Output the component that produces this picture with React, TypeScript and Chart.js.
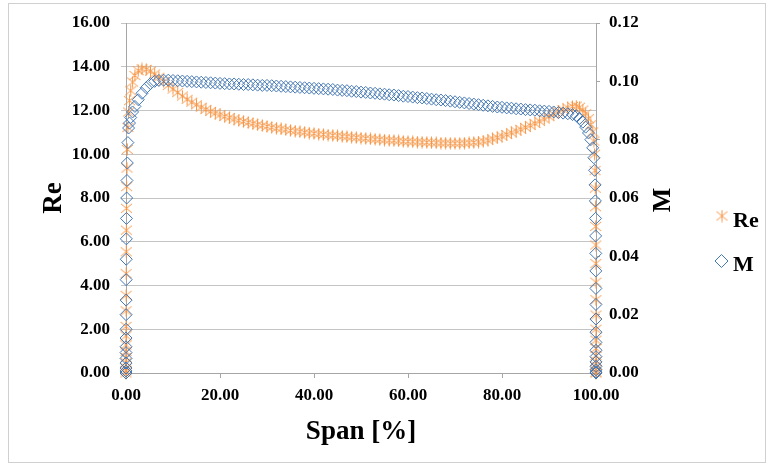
import React, { useEffect, useRef } from "react";
import { Chart, registerables } from "chart.js";

Chart.register(...registerables);

// Span positions [%]
const spanPct = [
  0, 0.0005, 0.001, 0.002, 0.003, 0.004, 0.006, 0.008, 0.012, 0.018,
  0.025, 0.035, 0.05, 0.07, 0.1, 0.14, 0.2, 0.28, 0.4, 0.55,
  0.75, 1.0, 1.4, 1.9, 2.6, 3.4, 4.3, 5.2, 6.1, 7.0, 8.0,
  9, 10, 11, 12, 13, 14, 15, 16, 17, 18,
  19, 20, 21, 22, 23, 24, 25, 26, 27, 28,
  29, 30, 31, 32, 33, 34, 35, 36, 37, 38,
  39, 40, 41, 42, 43, 44, 45, 46, 47, 48,
  49, 50, 51, 52, 53, 54, 55, 56, 57, 58,
  59, 60, 61, 62, 63, 64, 65, 66, 67, 68,
  69, 70, 71, 72, 73, 74, 75, 76, 77, 78,
  79, 80, 81, 82, 83, 84, 85, 86, 87, 88,
  89, 90, 91, 92, 93, 94,
  95, 95.8, 96.5, 97.2, 97.8, 98.4, 98.9, 99.3, 99.55, 99.7,
  99.8, 99.86, 99.9, 99.93, 99.95, 99.965, 99.975, 99.982, 99.988, 99.992,
  99.994, 99.996, 99.997, 99.998, 99.999, 99.9995, 100, 100,
];

// Reynolds number (left axis)
const reValues = [
  0, 0.10, 0.24, 0.48, 0.71, 0.99, 1.28, 1.70, 2.13, 2.84,
  3.55, 4.54, 5.54, 6.53, 7.53, 8.52, 9.37, 10.22, 11.22, 11.93,
  12.45, 12.9, 13.3, 13.6, 13.82, 13.9, 13.88, 13.8, 13.67, 13.52, 13.33,
  13.15, 12.98, 12.82, 12.66, 12.51, 12.38, 12.26, 12.15, 12.05, 11.96,
  11.88, 11.80, 11.73, 11.67, 11.61, 11.55, 11.50, 11.45, 11.40, 11.35,
  11.31, 11.27, 11.23, 11.19, 11.16, 11.12, 11.09, 11.06, 11.03, 11.00,
  10.97, 10.95, 10.92, 10.90, 10.88, 10.86, 10.84, 10.82, 10.80, 10.78,
  10.76, 10.74, 10.72, 10.70, 10.69, 10.67, 10.65, 10.64, 10.62, 10.61,
  10.59, 10.58, 10.57, 10.56, 10.55, 10.54, 10.53, 10.52, 10.51, 10.51,
  10.50, 10.50, 10.50, 10.51, 10.52, 10.54, 10.56, 10.60, 10.64, 10.70,
  10.76, 10.83, 10.90, 10.98, 11.06, 11.14, 11.23, 11.32, 11.41, 11.51,
  11.61, 11.72, 11.83, 11.94, 12.04, 12.12,
  12.18, 12.2, 12.15, 12.02, 11.85, 11.62, 11.35, 11.02, 10.6, 10.0,
  9.25, 8.45, 7.6, 6.7, 5.85, 5.0, 4.15, 3.35, 2.65, 2.0,
  1.5, 1.12, 0.8, 0.54, 0.33, 0.16, 0.04, 0,
];

// Mach number (right axis)
const mValues = [
  0, 0.0007, 0.0017, 0.0034, 0.005, 0.007, 0.009, 0.012, 0.015, 0.020,
  0.025, 0.032, 0.039, 0.046, 0.053, 0.060, 0.066, 0.072, 0.079, 0.084,
  0.0857, 0.0876, 0.0895, 0.0914, 0.0937, 0.0959, 0.0978, 0.0992, 0.1000, 0.1003, 0.1004,
  0.1004, 0.1003, 0.1002, 0.1001, 0.1000, 0.0999, 0.0998, 0.0997, 0.0996, 0.0995,
  0.0994, 0.0993, 0.0992, 0.0991, 0.0991, 0.0990, 0.0989, 0.0989, 0.0988, 0.0987,
  0.0986, 0.0986, 0.0985, 0.0984, 0.0983, 0.0982, 0.0981, 0.0980, 0.0979, 0.0978,
  0.0977, 0.0976, 0.0975, 0.0974, 0.0973, 0.0972, 0.0970, 0.0969, 0.0968, 0.0966,
  0.0965, 0.0963, 0.0962, 0.0960, 0.0959, 0.0957, 0.0956, 0.0954, 0.0953, 0.0951,
  0.0949, 0.0948, 0.0946, 0.0944, 0.0943, 0.0941, 0.0939, 0.0937, 0.0936, 0.0934,
  0.0932, 0.0930, 0.0928, 0.0926, 0.0924, 0.0922, 0.0920, 0.0918, 0.0916, 0.0914,
  0.0912, 0.0911, 0.0909, 0.0908, 0.0906, 0.0905, 0.0903, 0.0902, 0.0901, 0.0899,
  0.0898, 0.0897, 0.0895, 0.0893, 0.0891, 0.0889,
  0.0886, 0.0882, 0.0873, 0.0860, 0.0843, 0.0823, 0.0800, 0.0772, 0.0738, 0.0695,
  0.0645, 0.0590, 0.0530, 0.0470, 0.0410, 0.0350, 0.0290, 0.0235, 0.0185, 0.0140,
  0.0105, 0.0078, 0.0056, 0.0038, 0.0023, 0.0011, 0.0003, 0,
];

const xTicks = [0, 20, 40, 60, 80, 100];
const reTicks = [0, 2, 4, 6, 8, 10, 12, 14, 16];
const mTicks = [0, 0.02, 0.04, 0.06, 0.08, 0.1, 0.12];

const seriesNames = ["Re", "M"];
const xTitle = "Span [%]";
const reTitle = "Re";
const mTitle = "M";

const ORANGE = "#F79646";
const BLUE = "#4478B4";
const FONT = "'Liberation Serif', 'Times New Roman', serif";

function makeAsterisk(): HTMLCanvasElement {
  const c = document.createElement("canvas");
  c.width = 13;
  c.height = 13;
  const g = c.getContext("2d")!;
  g.strokeStyle = ORANGE;
  g.lineWidth = 1;
  g.beginPath();
  g.moveTo(6.5, 0.5);
  g.lineTo(6.5, 12.5);
  g.moveTo(1, 2);
  g.lineTo(12, 11);
  g.moveTo(1, 11);
  g.lineTo(12, 2);
  g.stroke();
  return c;
}

export default function App() {
  const ref = useRef<HTMLCanvasElement | null>(null);

  useEffect(() => {
    if (!ref.current) return;
    const star = makeAsterisk();

    const framePlugin = {
      id: "frame",
      beforeDraw(chart: any) {
        const ctx = chart.ctx;
        ctx.save();
        ctx.fillStyle = "#ffffff";
        ctx.fillRect(0, 0, chart.width, chart.height);
        ctx.strokeStyle = "#d0d0d0";
        ctx.lineWidth = 1;
        ctx.strokeRect(8.5, 3.5, 757, 459);
        ctx.restore();
      },
      afterDraw(chart: any) {
        const ctx = chart.ctx;
        const area = chart.chartArea;
        ctx.save();
        // secondary axis title, rotated like Excel
        ctx.fillStyle = "#000";
        ctx.font = `bold 26px ${FONT}`;
        ctx.textAlign = "center";
        ctx.textBaseline = "middle";
        ctx.translate(663, (area.top + area.bottom) / 2 + 2);
        ctx.rotate(-Math.PI / 2);
        ctx.fillText(mTitle, 0, 0);
        ctx.restore();

        // legend
        ctx.save();
        const ds = chart.data.datasets;
        ctx.font = `bold 22px ${FONT}`;
        ctx.fillStyle = "#000";
        ctx.textAlign = "left";
        ctx.textBaseline = "middle";
        ctx.drawImage(star, 722 - 6.5, 216 - 6.5);
        ctx.fillText(ds[0].label, 733, 221);
        ctx.strokeStyle = BLUE;
        ctx.lineWidth = 1;
        ctx.beginPath();
        const cx = 721.5, cy = 261, r = 6.5;
        ctx.moveTo(cx, cy - r);
        ctx.lineTo(cx + r, cy);
        ctx.lineTo(cx, cy + r);
        ctx.lineTo(cx - r, cy);
        ctx.closePath();
        ctx.stroke();
        ctx.fillText(ds[1].label, 733, 265);
        ctx.restore();
      },
    };

    const tickFont = { family: FONT, size: 17, weight: "bold" as const };
    const titleFont = { family: FONT, size: 27, weight: "bold" as const };

    const chart = new Chart(ref.current, {
      type: "scatter",
      data: {
        datasets: [
          {
            label: seriesNames[0],
            data: spanPct.map((x, i) => ({ x, y: reValues[i] })),
            yAxisID: "y",
            pointStyle: star as any,
            pointRadius: 6,
            borderColor: ORANGE,
            backgroundColor: ORANGE,
            showLine: false,
            clip: false as any,
            order: 1,
          },
          {
            label: seriesNames[1],
            data: spanPct.map((x, i) => ({ x, y: mValues[i] })),
            yAxisID: "y1",
            pointStyle: "rectRot",
            pointRadius: 6,
            pointBorderWidth: 1,
            borderColor: BLUE,
            backgroundColor: "rgba(0,0,0,0)",
            showLine: false,
            clip: false as any,
            order: 0,
          },
        ],
      },
      options: {
        responsive: false,
        animation: false,
        devicePixelRatio: 1,
        layout: { padding: { top: 23, left: 0, right: 0, bottom: 0 } },
        plugins: {
          legend: { display: false },
          tooltip: { enabled: false },
        },
        scales: {
          x: {
            type: "linear",
            min: 0,
            max: 100,
            afterBuildTicks: (s: any) => {
              s.ticks = xTicks.map((v) => ({ value: v }));
            },
            afterFit: (s: any) => {
              s.height = 95;
            },
            ticks: {
              color: "#000",
              font: tickFont,
              padding: 7,
              maxRotation: 0,
              callback: (v: any) => Number(v).toFixed(2),
            },
            grid: {
              drawOnChartArea: false,
              drawTicks: true,
              tickLength: 5,
              color: "#a6a6a6",
            },
            border: { color: "#a6a6a6" },
            title: {
              display: true,
              text: xTitle,
              color: "#000",
              font: titleFont,
              padding: { top: 0, bottom: 20 },
            },
          },
          y: {
            type: "linear",
            position: "left",
            min: 0,
            max: 16,
            afterBuildTicks: (s: any) => {
              s.ticks = reTicks.map((v) => ({ value: v }));
            },
            afterFit: (s: any) => {
              s.width = 126;
            },
            ticks: {
              color: "#000",
              font: tickFont,
              padding: 11,
              callback: (v: any) => Number(v).toFixed(2),
            },
            grid: {
              color: "#c4c4c4",
              tickLength: 5,
            },
            border: { color: "#a6a6a6" },
            title: {
              display: true,
              text: reTitle,
              color: "#000",
              font: titleFont,
              padding: { top: 38, bottom: 0 },
            },
          },
          y1: {
            type: "linear",
            position: "right",
            min: 0,
            max: 0.12,
            afterBuildTicks: (s: any) => {
              s.ticks = mTicks.map((v) => ({ value: v }));
            },
            afterFit: (s: any) => {
              s.width = 177;
            },
            ticks: {
              color: "#000",
              font: tickFont,
              padding: 9,
              callback: (v: any) => Number(v).toFixed(2),
            },
            grid: {
              drawOnChartArea: false,
              tickLength: 4,
              color: "#a6a6a6",
            },
            border: { color: "#a6a6a6" },
          },
        },
      },
      plugins: [framePlugin],
    });

    return () => chart.destroy();
  }, []);

  return (
    <div style={{ position: "absolute", left: 0, top: 0, width: 773, height: 468 }}>
      <canvas ref={ref} width={773} height={468} style={{ width: 773, height: 468, display: "block" }} />
    </div>
  );
}
